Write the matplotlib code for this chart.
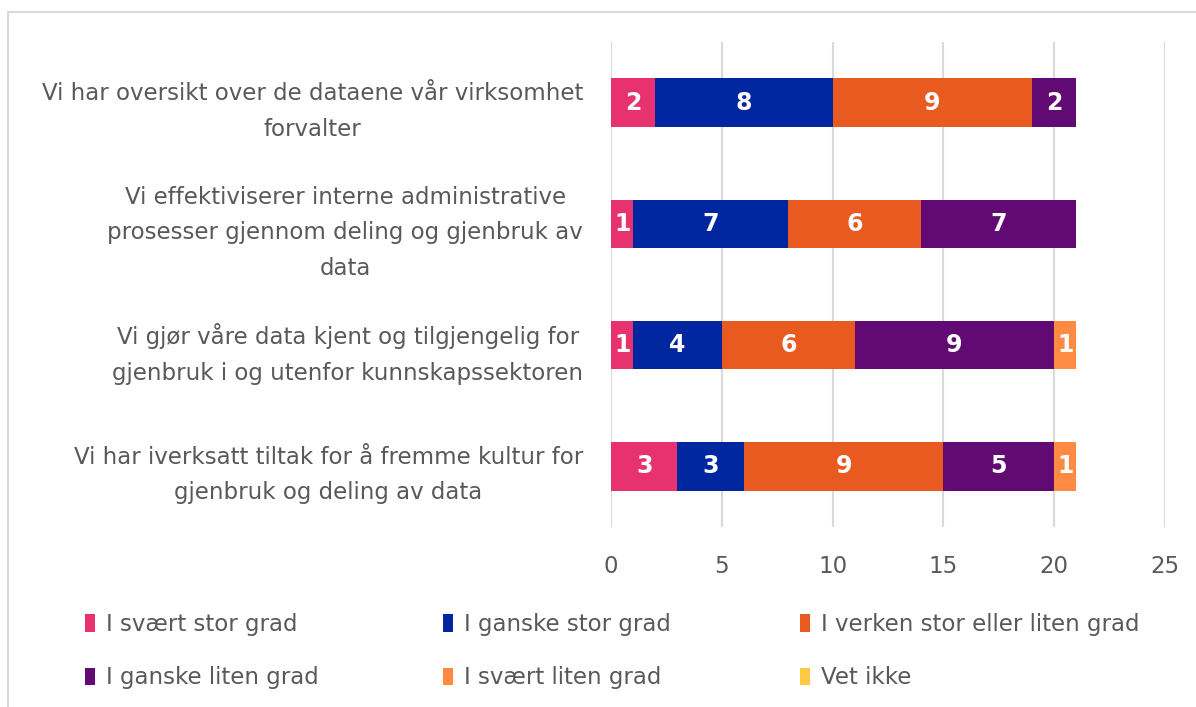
import matplotlib
matplotlib.use("Agg")
import matplotlib.pyplot as plt
from matplotlib.patches import Rectangle, Patch
import numpy as np

categories = [
    "Vi har oversikt over de dataene vår virksomhet\nforvalter",
    "Vi effektiviserer interne administrative\nprosesser gjennom deling og gjenbruk av\ndata",
    "Vi gjør våre data kjent og tilgjengelig for\ngjenbruk i og utenfor kunnskapssektoren",
    "Vi har iverksatt tiltak for å fremme kultur for\ngjenbruk og deling av data",
]
series_names = [
    "I svært stor grad",
    "I ganske stor grad",
    "I verken stor eller liten grad",
    "I ganske liten grad",
    "I svært liten grad",
    "Vet ikke",
]
svaert_stor = [2, 1, 1, 3]
ganske_stor = [8, 7, 4, 3]
verken = [9, 6, 6, 9]
ganske_liten = [2, 7, 9, 5]
svaert_liten = [0, 0, 1, 1]
vet_ikke = [0, 0, 0, 0]
series_values = [svaert_stor, ganske_stor, verken, ganske_liten, svaert_liten, vet_ikke]
colors = ["#E8316F", "#0026A0", "#E95A20", "#620A74", "#FF8B42", "#FFC845"]
xticks = [0, 5, 10, 15, 20, 25]

plt.rcParams['font.family'] = ['DejaVu Sans']
txt = "#595959"
FS = 16.5

fig = plt.figure(figsize=(11.96, 7.07), dpi=100)
fig.patches.append(Rectangle((8/1196, -0.1), 1.2, 1 - 12/707 + 0.1, transform=fig.transFigure,
                             fill=False, edgecolor="#D9D9D9", linewidth=1.5, zorder=0))
ax = fig.add_axes([611/1196, 1 - 527/707, (1165 - 611)/1196, (527 - 42)/707])

y = np.arange(len(categories))
left = np.zeros(len(categories))
handles = []
for name, vals, c in zip(series_names, series_values, colors):
    vals = np.array(vals, dtype=float)
    ax.barh(y, vals, left=left, height=0.4, color=c, label=name, zorder=3)
    for yi, (l, v) in enumerate(zip(left, vals)):
        if v > 0:
            ax.text(l + v / 2, yi, f"{int(v)}", ha="center", va="center",
                    color="white", fontsize=17, fontweight="bold", zorder=4)
    left += vals
    handles.append(Patch(facecolor=c, edgecolor="none"))

ax.set_xlim(0, 25)
ax.set_ylim(len(categories) - 0.5, -0.5)
ax.set_xticks(xticks)
ax.set_xticklabels([str(t) for t in xticks], fontsize=FS, color=txt)
ax.set_yticks(y)
ax.set_yticklabels(categories, fontsize=FS, color=txt, ha="right",
                   multialignment="center", linespacing=1.7)
ax.tick_params(axis="both", length=0)
ax.tick_params(axis="x", pad=20)
ax.tick_params(axis="y", pad=20)
ax.grid(axis="x", color="#D9D9D9", linewidth=1.5, zorder=0)
for s in ax.spines.values():
    s.set_visible(False)

col_x = [85, 443, 800]
for k, x0 in enumerate(col_x):
    idx = [k, k + 3]
    leg = fig.legend([handles[i] for i in idx], [series_names[i] for i in idx],
                     loc="upper left", bbox_to_anchor=(x0/1196, 1 - 613/707),
                     ncol=1, frameon=False, fontsize=FS, labelcolor=txt,
                     handlelength=0.45, handleheight=0.8, handletextpad=0.45,
                     labelspacing=1.32, borderaxespad=0, borderpad=0)

fig.savefig("out.png", dpi=100)
